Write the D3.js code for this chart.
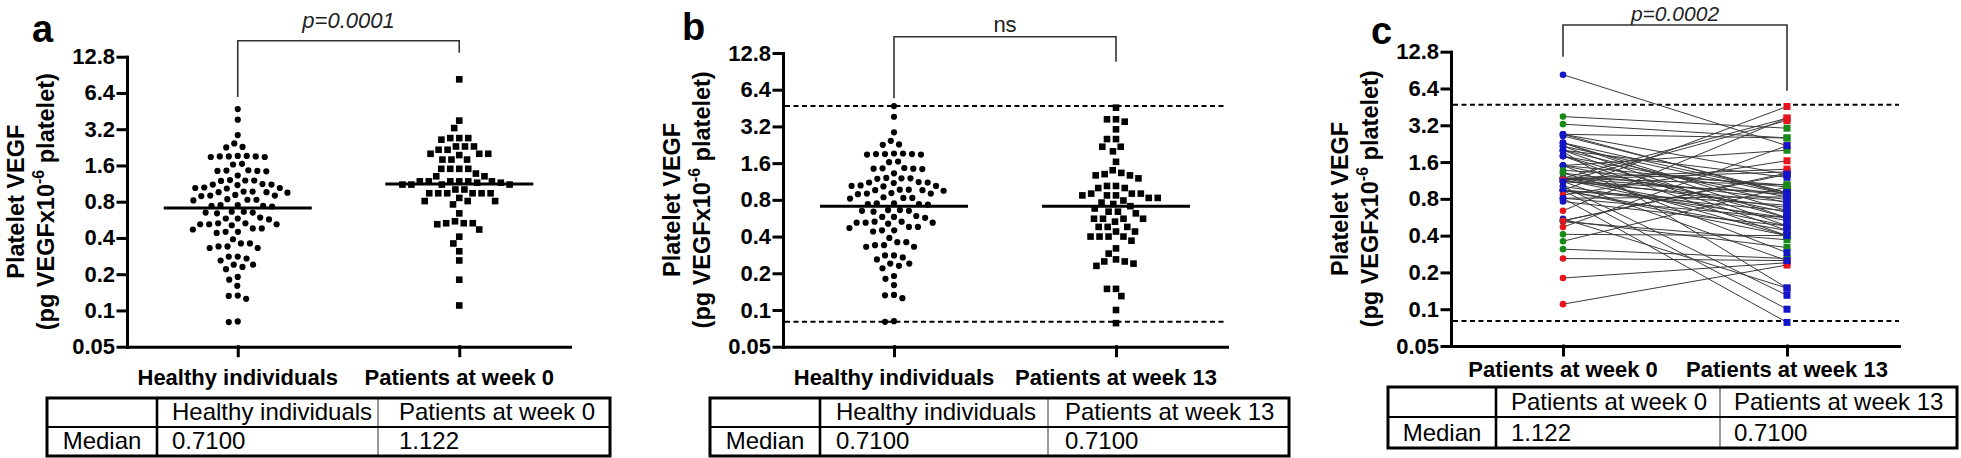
<!DOCTYPE html>
<html><head><meta charset="utf-8">
<script src="https://cdn.jsdelivr.net/npm/d3@7"></script>
<style>
body{margin:0;background:#fff}
text{font-family:"Liberation Sans",Arial,Helvetica,sans-serif}
</style>
</head><body>
<svg id="chart" width="1961" height="458"></svg>
<script>
// ---------------- DATA ----------------
const categoriesA = ["Healthy individuals", "Patients at week 0"];
const categoriesB = ["Healthy individuals", "Patients at week 13"];
const categoriesC = ["Patients at week 0", "Patients at week 13"];
const yTickValues = [0.05, 0.1, 0.2, 0.4, 0.8, 1.6, 3.2, 6.4, 12.8];
const yTickLabels = ["0.05", "0.1", "0.2", "0.4", "0.8", "1.6", "3.2", "6.4", "12.8"];

// Platelet VEGF of healthy individuals
const healthy = [
  4.70, 3.84, 2.86, 2.44, 2.28, 2.26,
  1.92, 1.90, 1.88, 1.90, 1.92, 1.88, 1.90,
  1.65, 1.63,
  1.46, 1.44, 1.44, 1.43, 1.45, 1.32,
  1.21, 1.20, 1.20, 1.19,
  1.12, 1.11, 1.11, 1.10,
  1.05, 1.04, 1.03, 1.04,
  0.97, 0.96, 0.95, 0.96, 0.97,
  0.91, 0.90, 0.89, 0.90,
  0.84, 0.83, 0.83, 0.82,
  0.75, 0.74, 0.74, 0.73, 0.75,
  0.66, 0.65, 0.64, 0.65, 0.66,
  0.59, 0.58, 0.58, 0.57,
  0.53, 0.52, 0.52, 0.51, 0.53, 0.52,
  0.48, 0.47, 0.48,
  0.45, 0.44, 0.45,
  0.39,
  0.36, 0.36,
  0.34, 0.33, 0.34, 0.33,
  0.28, 0.28, 0.27,
  0.26,
  0.24, 0.24, 0.23,
  0.22,
  0.19, 0.18,
  0.16,
  0.133, 0.132,
  0.125,
  0.080, 0.081
];

// Patients (same index in all three arrays = one patient)
const week0 = [
  8.30, 3.77, 3.27, 2.70, 2.70, 2.70, 2.62, 2.30, 2.30, 2.30,
  2.16, 2.16, 2.00, 2.00, 2.00, 1.95, 1.79, 1.79, 1.79, 1.50,
  1.50, 1.50, 1.50, 1.37, 1.30, 1.30, 1.18, 1.18, 1.18, 1.18,
  1.18, 1.18, 1.15, 1.15, 1.11, 1.11, 1.11, 1.11, 1.01, 1.01,
  0.94, 0.94, 0.94, 0.94, 0.94, 0.94, 0.86, 0.81, 0.81, 0.81,
  0.76, 0.64, 0.55, 0.52, 0.53, 0.53, 0.53, 0.47, 0.41, 0.36,
  0.31, 0.26, 0.18, 0.11
];
const week13 = [
  2.18, 3.03, 2.52, 2.52, 1.27, 0.87, 0.90, 0.90, 0.64, 0.56,
  0.87, 0.48, 1.20, 0.74, 0.44, 0.149, 0.83, 0.56, 0.40, 2.00,
  1.00, 0.62, 0.29, 1.04, 0.79, 0.40, 0.87, 0.53, 3.66, 1.40,
  0.68, 1.04, 0.48, 1.33, 0.25, 0.76, 3.50, 0.90, 0.56, 0.13,
  0.71, 4.56, 0.44, 0.64, 0.40, 0.10, 1.64, 0.56, 0.83, 0.078,
  0.48, 3.66, 0.149, 0.37, 0.32, 1.27, 1.30, 2.18, 0.40, 1.00,
  0.26, 0.25, 0.24, 0.23
];
const patientGroup = [
  "B","G","G","G","B","B","B","B","B","B",
  "B","B","B","B","B","B","B","B","B","G",
  "G","B","B","G","B","G","B","B","R","R",
  "B","G","B","R","B","B","R","B","B","B",
  "B","R","B","B","G","B","R","B","B","B",
  "B","R","B","G","G","B","R","R","G","G",
  "G","R","R","R"
];

const mediansA = [0.71, 1.122];
const mediansB = [0.71, 0.71];
const mediansC = [1.122, 0.71];
const medianTextA = ["0.7100", "1.122"];
const medianTextB = ["0.7100", "0.7100"];
const medianTextC = ["1.122", "0.7100"];
const referenceRange = [0.08, 4.7];
const pLabels = ["p=0.0001", "ns", "p=0.0002"];
const panelLetters = ["a", "b", "c"];

// ---------------- STYLE / LAYOUT ----------------
const groupColor = { B: "#1414c8", G: "#178a17", R: "#e6141c" };
const groupDrawOrder = { R: 0, G: 1, B: 2 };
const FONT_BOLD = 22;

const svg = d3.select("#chart");
svg.append("rect").attr("width", 1961).attr("height", 458).attr("fill", "#fff");

function beeswarm(values, y, D) {
  const pts = values.map((v, i) => ({ v, i, y: y(v), dx: 0 }));
  const order = pts.slice().sort((a, b) => a.y - b.y);
  const placed = [];
  for (const p of order) {
    const cands = [0];
    for (const q of placed) {
      const dy = q.y - p.y;
      if (Math.abs(dy) < D) {
        const w = Math.sqrt(D * D - dy * dy);
        cands.push(q.dx + w, q.dx - w);
      }
    }
    cands.sort((a, b) => Math.abs(a) - Math.abs(b) || a - b);
    for (const c of cands) {
      let ok = true;
      for (const q of placed) {
        const ddx = q.dx - c, ddy = q.y - p.y;
        if (ddx * ddx + ddy * ddy < D * D - 0.01) { ok = false; break; }
      }
      if (ok) { p.dx = c; break; }
    }
    placed.push(p);
  }
  return pts;
}

function drawFrame(L, categories) {
  const g = svg.append("g");
  const y = d3.scaleLog().base(2).domain([0.05, 12.8]).range([L.yBot, L.yTop]);
  const x = d3.scaleLinear().domain([-0.5, 1.5]).range([L.x0, L.x1]);

  // y axis
  const ya = g.append("g").attr("transform", `translate(${L.x0},0)`)
    .call(d3.axisLeft(y).tickValues(yTickValues)
      .tickFormat(d => yTickLabels[yTickValues.indexOf(d)])
      .tickSize(9).tickSizeOuter(0).tickPadding(3));
  ya.selectAll("path,line").attr("stroke", "#000").attr("stroke-width", 3).attr("stroke-linecap", "square");
  ya.selectAll("text").attr("font-size", FONT_BOLD).attr("font-weight", "bold")
    .attr("font-family", "Liberation Sans, Arial, sans-serif").attr("fill", "#000");

  // x axis
  const xa = g.append("g").attr("transform", `translate(0,${L.yBot})`)
    .call(d3.axisBottom(x).tickValues([0, 1]).tickFormat("").tickSize(9).tickSizeOuter(0));
  xa.selectAll("path,line").attr("stroke", "#000").attr("stroke-width", 3).attr("stroke-linecap", "square");

  // category labels
  g.selectAll(".cat").data(categories).join("text")
    .attr("x", (d, i) => x(i)).attr("y", L.labelY)
    .attr("text-anchor", "middle").attr("font-size", FONT_BOLD).attr("font-weight", "bold")
    .text(d => d);

  // y title (two lines, rotated)
  const cy = (L.yTop + L.yBot) / 2;
  g.append("text")
    .attr("transform", `translate(${L.x0 - 103},${cy}) rotate(-90)`)
    .attr("text-anchor", "middle").attr("font-size", 23.5).attr("font-weight", "bold")
    .text("Platelet VEGF");
  const t2 = g.append("text")
    .attr("transform", `translate(${L.x0 - 73},${cy}) rotate(-90)`)
    .attr("text-anchor", "middle").attr("font-size", 23.5).attr("font-weight", "bold");
  t2.append("tspan").text("(pg VEGFx10");
  t2.append("tspan").attr("font-size", 16).attr("dy", -10).text("-6");
  t2.append("tspan").attr("dy", 10).text(" platelet)");

  // panel letter
  g.append("text").attr("x", L.letterX).attr("y", L.letterY)
    .attr("font-size", 38).attr("font-weight", "bold").text(L.letter);

  // significance bracket
  g.append("path")
    .attr("d", `M${x(0)},${L.brL}V${L.brTop}H${x(1)}V${L.brR}`)
    .attr("fill", "none").attr("stroke", "#333").attr("stroke-width", 1.6);
  g.append("text").attr("x", (x(0) + x(1)) / 2).attr("y", L.pY)
    .attr("text-anchor", "middle").attr("font-size", L.pSize)
    .attr("font-style", L.pItalic ? "italic" : "normal").attr("fill", "#222")
    .text(L.pText);

  // reference range (dotted)
  if (L.ref) {
    g.selectAll(".ref").data(referenceRange).join("line")
      .attr("x1", L.x0 + 2).attr("x2", L.x1)
      .attr("y1", d => y(d)).attr("y2", d => y(d))
      .attr("stroke", "#000").attr("stroke-width", 2).attr("stroke-dasharray", "5,3.5");
  }
  return { g, x, y };
}

function drawTable(L, cols, vals) {
  const g = svg.append("g");
  const [xa, xb, xc, xd] = L.tx;
  const [ya, yb, yc] = L.ty;
  g.append("line").attr("x1", xc).attr("x2", xc).attr("y1", ya).attr("y2", yc)
    .attr("stroke", "#555").attr("stroke-width", 1.2);
  g.append("line").attr("x1", xa).attr("x2", xd).attr("y1", yb).attr("y2", yb)
    .attr("stroke", "#000").attr("stroke-width", 2.2);
  g.append("line").attr("x1", xb).attr("x2", xb).attr("y1", ya).attr("y2", yc)
    .attr("stroke", "#000").attr("stroke-width", 2.6);
  g.append("rect").attr("x", xa).attr("y", ya).attr("width", xd - xa).attr("height", yc - ya)
    .attr("fill", "none").attr("stroke", "#000").attr("stroke-width", 3);
  const fs = 24;
  const starts = [xb + L.pad1, xc + L.pad2];
  cols.forEach((c, i) => {
    g.append("text").attr("x", starts[i]).attr("y", yb - 7).attr("font-size", fs).text(c);
    g.append("text").attr("x", starts[i]).attr("y", yc - 7).attr("font-size", fs).text(vals[i]);
  });
  g.append("text").attr("x", (xa + xb) / 2).attr("y", yc - 7).attr("text-anchor", "middle")
    .attr("font-size", fs).text("Median");
}

function drawScatterPanel(L, categories, groups, medians, medTexts) {
  const { g, x, y } = drawFrame(L, categories);
  groups.forEach((vals, gi) => {
    const pts = beeswarm(vals, y, 9);
    const cx = x(gi);
    if (gi === 0) {
      g.append("g").selectAll("circle").data(pts).join("circle")
        .attr("cx", d => cx + d.dx).attr("cy", d => d.y).attr("r", 3.1).attr("fill", "#000");
    } else {
      const s = 6.6;
      g.append("g").selectAll("rect").data(pts).join("rect")
        .attr("x", d => cx + d.dx - s / 2).attr("y", d => d.y - s / 2)
        .attr("width", s).attr("height", s).attr("fill", "#000");
    }
    g.append("line").attr("x1", cx - 74).attr("x2", cx + 74)
      .attr("y1", y(medians[gi])).attr("y2", y(medians[gi]))
      .attr("stroke", "#000").attr("stroke-width", 3);
  });
  drawTable(L, categories, medTexts);
}

function drawPairedPanel(L, categories, medTexts) {
  const { g, x, y } = drawFrame(L, categories);
  const idx = d3.range(week0.length);
  const ordered = idx.slice().sort((a, b) =>
    groupDrawOrder[patientGroup[a]] - groupDrawOrder[patientGroup[b]]);
  g.append("g").selectAll("line").data(idx).join("line")
    .attr("x1", x(0)).attr("x2", x(1))
    .attr("y1", i => y(week0[i])).attr("y2", i => y(week13[i]))
    .attr("stroke", "#3a3a3a").attr("stroke-width", 1);
  const s = 7;
  g.append("g").selectAll("rect").data(ordered).join("rect")
    .attr("x", x(1) - s / 2).attr("y", i => y(week13[i]) - s / 2)
    .attr("width", s).attr("height", s).attr("fill", i => groupColor[patientGroup[i]]);
  g.append("g").selectAll("circle").data(idx).join("circle")
    .attr("cx", x(0)).attr("cy", i => y(week0[i])).attr("r", 3.3)
    .attr("fill", i => groupColor[patientGroup[i]]);
  drawTable(L, categories, medTexts);
}

const layoutA = { x0: 127, x1: 570, yTop: 56.7, yBot: 346.7, labelY: 385,
  letter: panelLetters[0], letterX: 32, letterY: 42,
  brTop: 40.7, brL: 97, brR: 52.7, pY: 28, pSize: 22, pText: pLabels[0], pItalic: true, ref: false,
  tx: [47, 157, 378, 610], ty: [398, 427, 456], pad1: 15, pad2: 21 };
const layoutB = { x0: 783, x1: 1227, yTop: 53, yBot: 346.7, labelY: 385,
  letter: panelLetters[1], letterX: 682, letterY: 40,
  brTop: 36.7, brL: 98.3, brR: 61.7, pY: 32, pSize: 22, pText: pLabels[1], pItalic: false, ref: true,
  tx: [710, 820, 1048, 1289], ty: [398, 427, 456], pad1: 16, pad2: 17 };
const layoutC = { x0: 1451, x1: 1899, yTop: 51.7, yBot: 346, labelY: 377,
  letter: panelLetters[2], letterX: 1371, letterY: 44,
  brTop: 25, brL: 56.7, brR: 90.7, pY: 21, pSize: 21, pText: pLabels[2], pItalic: true, ref: true,
  tx: [1388, 1496, 1720, 1957], ty: [387, 417, 448], pad1: 15, pad2: 14 };

drawScatterPanel(layoutA, categoriesA, [healthy, week0], mediansA, medianTextA);
drawScatterPanel(layoutB, categoriesB, [healthy, week13], mediansB, medianTextB);
drawPairedPanel(layoutC, categoriesC, medianTextC);
</script>
</body></html>
